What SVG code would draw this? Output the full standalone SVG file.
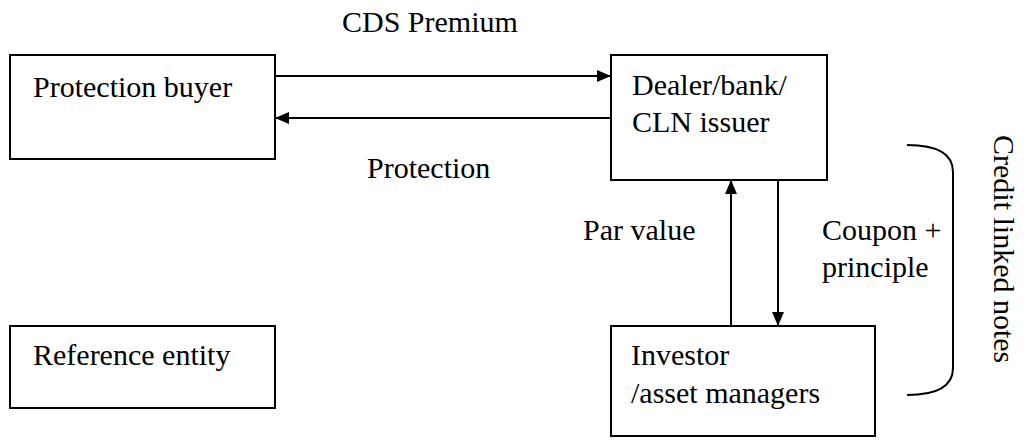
<svg xmlns="http://www.w3.org/2000/svg" width="1024" height="448" viewBox="0 0 1024 448">
<style>
.box{fill:#fff;stroke:#000;stroke-width:2}
.t{font-family:"Liberation Serif","Times New Roman",serif;font-size:30px;fill:#000}
.ln{stroke:#000;stroke-width:2;fill:none}
</style>
<defs>
<marker id="ah" markerWidth="14" markerHeight="12" refX="14" refY="6" orient="auto" markerUnits="userSpaceOnUse">
<path d="M0,0 L14,6 L0,12 Z" fill="#000"/>
</marker>
</defs>
<rect width="1024" height="448" fill="#fff"/>
<g id="protection-buyer">
<rect class="box" x="10" y="55" width="265" height="104"/>
<text class="t" x="33" y="97">Protection buyer</text>
</g>
<g id="dealer">
<rect class="box" x="611" y="55" width="216" height="125"/>
<text class="t" x="632" y="95">Dealer/bank/</text>
<text class="t" x="632" y="132">CLN issuer</text>
</g>
<g id="reference-entity">
<rect class="box" x="10" y="326" width="265" height="82"/>
<text class="t" x="33" y="365">Reference entity</text>
</g>
<g id="investor">
<rect class="box" x="611" y="326" width="264" height="110"/>
<text class="t" x="631" y="365">Investor</text>
<text class="t" x="631" y="403">/asset managers</text>
</g>
<g id="connectors">
<line class="ln" x1="275" y1="76" x2="611" y2="76" marker-end="url(#ah)"/>
<line class="ln" x1="611" y1="118" x2="275" y2="118" marker-end="url(#ah)"/>
<line class="ln" x1="731" y1="326" x2="731" y2="180" marker-end="url(#ah)"/>
<line class="ln" x1="778" y1="180" x2="778" y2="326" marker-end="url(#ah)"/>
<path class="ln" d="M907,145 Q953,145 953,172 L953,368 Q953,395 907,395"/>
</g>
<g id="labels">
<text class="t" x="342" y="32">CDS Premium</text>
<text class="t" x="367" y="178">Protection</text>
<text class="t" x="583" y="240">Par value</text>
<text class="t" x="822" y="240">Coupon +</text>
<text class="t" x="822" y="277">principle</text>
<text class="t" transform="translate(994,135) rotate(90)">Credit linked notes</text>
</g>
</svg>
